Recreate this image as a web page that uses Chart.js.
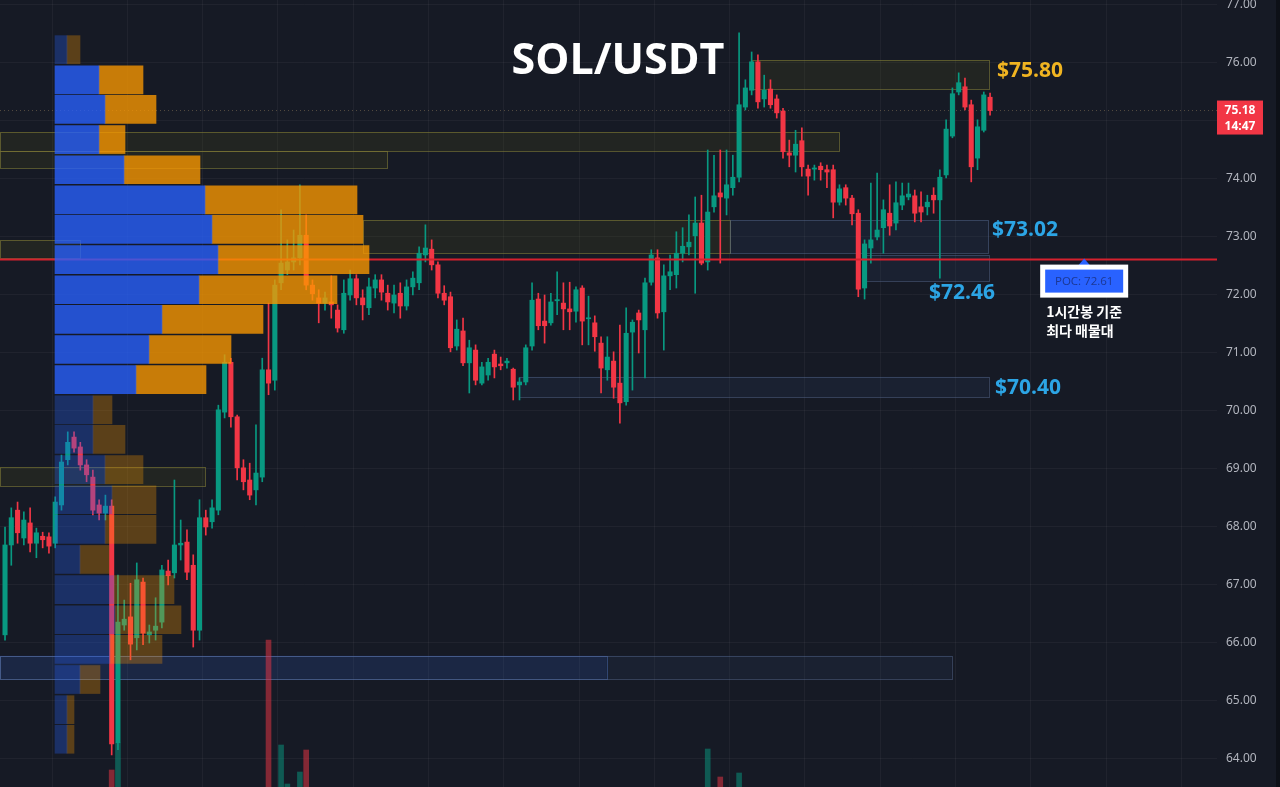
<!DOCTYPE html>
<html>
<head>
<meta charset="utf-8">
<script src="https://cdn.jsdelivr.net/npm/chart.js@4.4.1/dist/chart.umd.min.js"></script>
<style>
  html, body { margin: 0; padding: 0; background: #161a25; }
  #wrap { width: 1280px; height: 787px; position: relative; }
</style>
</head>
<body>
<div id="wrap"><canvas id="chartSol"></canvas></div>
<script>
// ── SOL/USDT 1h candles (oldest first) ──
const opens = [66.14,67.69,68.29,67.81,68.07,67.72,67.84,67.83,67.72,68.38,
  69.16,69.55,69.38,69.07,68.86,68.38,68.24,68.36,64.28,66.31,
  66.45,66.09,67.05,66.14,66.22,66.36,67.24,67.21,67.69,67.74,
  67.34,66.22,68.16,68.09,68.29,69.98,70.84,69.90,69.02,68.81,
  68.64,68.86,70.71,70.53,72.21,72.43,72.57,72.64,73.03,72.17,
  71.95,71.86,71.88,71.74,71.40,72.00,72.28,71.95,71.78,72.12,
  72.26,72.03,71.86,72.03,71.81,72.14,72.21,72.69,72.79,72.52,
  72.03,71.97,71.12,71.38,70.83,71.05,70.48,70.62,70.98,70.81,
  70.83,70.72,70.45,70.50,71.12,71.93,71.55,71.52,71.90,71.86,
  71.76,71.72,72.12,71.59,71.52,71.17,70.71,70.86,70.48,70.16,
  71.36,71.69,71.40,72.22,72.64,71.71,72.33,72.35,72.72,72.83,
  73.02,73.24,72.57,73.52,73.76,73.67,73.85,74.03,75.24,75.53,
  76.02,75.38,75.55,75.38,75.17,74.45,74.41,74.66,74.17,74.17,
  74.22,74.16,74.16,73.60,73.85,73.67,73.41,72.12,72.81,73.00,
  73.16,73.41,73.24,73.55,73.69,73.71,73.52,73.52,73.72,73.64,
  74.07,74.74,75.50,75.59,75.28,74.36,74.84,75.41];
const highs = [68.00,68.33,68.43,68.26,68.33,67.98,67.91,67.90,68.52,69.24,
  69.64,69.64,69.46,69.16,68.98,68.47,68.55,68.47,67.17,66.74,
  67.03,67.38,67.12,66.31,66.78,67.34,67.43,68.81,68.12,67.95,
  67.52,68.47,68.29,68.47,70.10,70.97,70.91,69.93,69.16,69.10,
  69.76,70.91,71.86,72.26,73.47,72.95,73.12,73.90,73.38,72.26,
  72.09,72.05,72.33,71.83,72.26,72.43,72.35,72.09,72.29,72.35,
  72.35,72.17,72.17,72.21,72.26,72.40,72.83,73.21,72.95,72.57,
  72.16,72.05,71.57,71.60,71.22,71.14,70.84,70.91,71.05,70.93,
  70.91,70.74,70.57,71.14,72.21,72.03,72.00,72.03,72.40,72.21,
  72.22,72.14,72.16,71.98,71.64,71.28,71.28,71.02,71.48,71.78,
  71.57,71.74,72.29,72.78,72.78,72.52,72.69,73.09,73.16,73.38,
  73.69,73.72,74.50,74.41,74.50,74.50,74.41,76.52,75.71,76.19,
  76.14,75.79,75.71,75.45,75.22,74.67,74.84,74.88,74.24,74.24,
  74.28,74.24,74.24,73.90,73.90,73.72,73.47,72.95,73.93,74.10,
  73.64,73.90,73.95,73.93,73.93,73.81,73.78,73.72,73.85,74.16,
  75.02,75.57,75.83,75.74,75.36,75.02,75.50,75.48];
const lows = [66.05,67.34,67.72,67.69,67.57,67.47,67.64,67.55,67.64,68.29,
  69.07,69.29,68.98,68.78,68.21,68.12,68.12,64.07,64.16,66.22,
  65.71,65.88,65.97,66.00,66.05,66.26,67.00,67.12,67.43,67.09,
  65.93,66.05,67.86,67.98,68.21,69.88,69.72,68.81,68.64,68.47,
  68.38,68.78,70.28,70.36,72.09,72.35,72.43,72.52,72.09,71.91,
  71.52,71.74,71.60,71.36,71.34,71.91,71.83,71.57,71.66,71.95,
  71.91,71.74,71.69,71.60,71.74,72.00,72.09,72.57,72.43,71.95,
  71.83,71.02,71.05,70.78,70.31,70.45,70.45,70.53,70.57,70.71,
  70.74,70.19,70.19,70.45,71.05,71.40,71.17,71.48,71.66,71.40,
  71.40,71.53,71.14,71.14,71.03,70.31,70.53,70.22,69.79,70.10,
  70.36,71.00,70.57,72.17,71.60,71.05,72.09,72.12,72.57,72.69,
  72.03,72.52,72.43,73.43,72.55,73.38,73.72,73.95,75.19,75.45,
  75.22,75.24,75.22,75.05,74.36,74.21,74.12,74.05,73.72,73.98,
  73.98,73.85,73.33,73.55,73.55,73.21,71.97,71.93,72.55,72.95,
  72.72,73.03,73.12,73.47,73.64,73.26,73.26,73.38,73.41,72.29,
  74.02,74.71,75.45,75.19,73.95,74.16,74.81,75.10];
const closes = [67.69,68.16,67.90,68.12,67.72,67.90,67.78,67.67,68.43,69.12,
  69.46,69.36,69.07,68.90,68.29,68.24,68.36,64.26,66.36,66.41,
  65.98,67.09,66.17,66.19,66.29,67.26,67.16,67.69,67.72,67.22,
  66.22,68.16,68.00,68.33,70.02,70.84,69.90,69.02,68.78,68.55,
  68.93,70.71,70.48,72.17,72.55,72.57,72.64,73.03,72.17,72.02,
  71.86,71.95,71.83,71.43,72.03,72.28,71.95,71.83,72.14,72.26,
  72.05,71.88,72.00,71.81,72.14,72.29,72.72,72.81,72.52,72.03,
  71.91,71.09,71.41,70.83,71.09,70.53,70.76,70.84,70.76,70.78,
  70.86,70.41,70.50,71.09,71.91,71.47,71.47,71.88,71.92,71.76,
  71.71,72.09,71.55,71.60,71.28,70.74,70.93,70.41,70.14,71.34,
  71.53,71.57,72.21,72.69,71.69,72.33,72.40,72.72,72.84,72.91,
  73.24,72.55,73.43,73.71,73.69,73.90,74.03,75.28,75.57,76.02,
  75.33,75.53,75.28,75.14,74.47,74.41,74.60,74.21,74.05,74.19,
  74.16,74.12,73.60,73.83,73.67,73.40,72.10,72.88,72.95,73.12,
  73.47,73.19,73.59,73.71,73.74,73.41,73.43,73.60,73.64,74.03,
  74.86,75.47,75.66,75.24,74.21,74.90,75.45,75.18];

// volume bars that rise into view at the bottom edge (candle index, volume K)
const volIdx = [17, 18, 42, 44, 45, 47, 48, 112, 114, 117];
const volVals = [68, 176, 588, 168, 12, 60, 148, 152, 40, 56];

// volume profile rows (price centre, buy / sell volume K), top to bottom
const vpPrices = [76.23,75.71,75.20,74.68,74.16,73.64,73.13,72.61,72.09,71.58,71.06,70.54,
  70.02,69.51,68.99,68.47,67.96,67.44,66.92,66.40,65.89,65.37,64.85,64.34];
const vpBuy = [1.2,4.4,5.0,4.4,6.9,15.0,15.7,16.3,14.4,10.7,9.4,8.1,
  3.8,3.8,5.0,5.7,5.0,2.5,5.9,6.0,5.5,2.5,1.2,1.2];
const vpSell = [1.3,4.4,5.1,2.6,7.6,15.2,15.1,15.1,13.8,10.1,8.2,7.0,
  1.9,3.2,3.8,4.4,5.1,2.9,6.0,6.6,5.2,2.0,0.7,0.7];
const vpValueArea = [0,1,1,1,1,1,1,1,1,1,1,1, 0,0,0,0,0,0,0,0,0,0,0,0];

// support / resistance boxes (price low, price high, candle from, candle to)
const zoneLo = [75.55, 74.48, 74.19, 72.72, 72.72, 72.64, 72.24, 70.24, 68.71, 65.38, 65.38];
const zoneHi = [76.05, 74.81, 74.48, 73.29, 73.29, 72.95, 72.69, 70.59, 69.03, 65.78, 65.78];
const zoneFrom = [119.1, null, null, 57.1, 115.6, null, 137.1, 81.9, null, null, null];
const zoneTo = [156.8, 132.9, 60.9, 115.6, 156.8, 12.0, 156.8, 156.8, 31.9, 95.9, 150.9];
const zoneKind = ["olive", "olive", "olive", "olive", "blue", "olive", "blue", "blue", "olive", "blueStrong", "blue"];

const levelText = ["$75.80", "$73.02", "$72.46", "$70.40"];
const levelPrice = [75.86, 73.12, 72.03, 70.40];
const levelIdx = [158.1, 157.3, 157.8, 157.8];
const levelAlign = ["left", "left", "right", "left"];

const pocPrice = 72.61;
const pocLabelIdx = 172;
const lastPrice = 75.18;
const barTimer = "14:47";

// ── styling ──
const UP = "#089981";
const DOWN = "#f23645";
const FONT = "'Open Sans', 'Noto Sans', sans-serif";
const X_MIN = -0.8, X_MAX = 193.17;

const zoneStyle = {
  olive: { fill: "rgba(100,100,20,0.16)", border: "rgba(130,125,55,0.6)" },
  blue: { fill: "rgba(70,100,160,0.10)", border: "rgba(90,110,150,0.45)" },
  blueStrong: { fill: "rgba(41,98,255,0.10)", border: "rgba(80,120,200,0.45)" },
};

const isUp = opens.map((o, i) => closes[i] >= o);
const candleColors = isUp.map((u) => (u ? UP : DOWN));

const zonesPlugin = {
  id: "zones",
  beforeDatasetsDraw(chart) {
    const { ctx, chartArea, scales } = chart;
    ctx.save();
    zoneLo.forEach((lo, i) => {
      const x0 = zoneFrom[i] === null ? chartArea.left : scales.x.getPixelForValue(zoneFrom[i]);
      const x1 = scales.x.getPixelForValue(zoneTo[i]);
      const y0 = scales.y.getPixelForValue(zoneHi[i]);
      const y1 = scales.y.getPixelForValue(lo);
      const st = zoneStyle[zoneKind[i]];
      ctx.fillStyle = st.fill;
      ctx.fillRect(x0, y0, x1 - x0, y1 - y0);
      ctx.strokeStyle = st.border;
      ctx.lineWidth = 1;
      ctx.strokeRect(Math.round(x0) + 0.5, Math.round(y0) + 0.5, Math.round(x1 - x0), Math.round(y1 - y0));
    });
    ctx.restore();
  },
};

const overlayPlugin = {
  id: "overlay",
  afterDraw(chart) {
    const { ctx, chartArea, scales } = chart;
    ctx.save();

    // title
    ctx.fillStyle = "#ffffff";
    ctx.font = `bold 43px ${FONT}`;
    ctx.textAlign = "center";
    ctx.textBaseline = "middle";
    ctx.fillText("SOL/USDT", 618, 62);

    // level labels
    ctx.font = `bold 21px ${FONT}`;
    levelText.forEach((t, i) => {
      ctx.fillStyle = i === 0 ? "#f0b421" : "#2ca5e5";
      ctx.textAlign = levelAlign[i];
      ctx.fillText(t, scales.x.getPixelForValue(levelIdx[i]), scales.y.getPixelForValue(levelPrice[i]));
    });

    // POC marker + box
    const cx = scales.x.getPixelForValue(pocLabelIdx);
    const cy = scales.y.getPixelForValue(pocPrice);
    ctx.fillStyle = "#2962ff";
    ctx.beginPath();
    ctx.moveTo(cx, cy - 1);
    ctx.lineTo(cx - 6, cy + 6);
    ctx.lineTo(cx + 6, cy + 6);
    ctx.closePath();
    ctx.fill();
    ctx.fillStyle = "#ffffff";
    ctx.fillRect(cx - 44, cy + 5, 88, 33);
    ctx.fillStyle = "#2962ff";
    ctx.fillRect(cx - 39, cy + 10, 78, 23);
    ctx.fillStyle = "rgba(25,45,120,0.8)";
    ctx.font = `11.5px ${FONT}`;
    ctx.textAlign = "center";
    ctx.fillText("POC: " + pocPrice.toFixed(2), cx, cy + 22);

    ctx.fillStyle = "#ffffff";
    ctx.font = "bold 14px 'Noto Sans CJK KR', sans-serif";
    ctx.textAlign = "left";
    ctx.fillText("1시간봉 기준", cx - 38, cy + 52);
    ctx.fillText("최다 매물대", cx - 38, cy + 71);

    // last price tag on the axis
    const py = scales.y.getPixelForValue(lastPrice);
    ctx.fillStyle = DOWN;
    ctx.fillRect(chartArea.right, py - 10, 46, 34);
    ctx.fillStyle = "#ffffff";
    ctx.font = `bold 12px ${FONT}`;
    ctx.textAlign = "center";
    ctx.fillText(lastPrice.toFixed(2), chartArea.right + 23, py);
    ctx.fillText(barTimer, chartArea.right + 23, py + 16);

    // dark edge at the far right
    ctx.fillStyle = "#0d1017";
    ctx.fillRect(chart.width - 4, 0, 4, chart.height);
    ctx.restore();
  },
};

new Chart(document.getElementById("chartSol"), {
  type: "bar",
  data: {
    datasets: [
      {
        label: "profile buy",
        indexAxis: "y",
        xAxisID: "xp",
        yAxisID: "y",
        grouped: false,
        barThickness: 28,
        order: 0,
        data: vpPrices.map((p, i) => ({ y: p, x: [0, vpBuy[i]] })),
        backgroundColor: vpValueArea.map((v) => (v ? "rgba(41,98,255,0.78)" : "rgba(41,98,255,0.30)")),
        borderWidth: 0,
      },
      {
        label: "profile sell",
        indexAxis: "y",
        xAxisID: "xp",
        yAxisID: "y",
        grouped: false,
        barThickness: 28,
        order: 0,
        data: vpPrices.map((p, i) => ({ y: p, x: [vpBuy[i], vpBuy[i] + vpSell[i]] })),
        backgroundColor: vpValueArea.map((v) => (v ? "rgba(251,152,0,0.78)" : "rgba(251,152,0,0.30)")),
        borderWidth: 0,
      },
      {
        type: "line",
        label: "POC",
        xAxisID: "x",
        yAxisID: "y",
        order: 1,
        data: [{ x: X_MIN, y: pocPrice }, { x: X_MAX, y: pocPrice }],
        borderColor: "#d5212e",
        borderWidth: 2,
        pointRadius: 0,
        pointHoverRadius: 0,
      },
      {
        label: "body",
        xAxisID: "x",
        yAxisID: "y",
        grouped: false,
        barThickness: 4.4,
        minBarLength: 1,
        order: 2,
        data: opens.map((o, i) => ({ x: i, y: [o, closes[i]] })),
        backgroundColor: candleColors,
        borderWidth: 0,
      },
      {
        label: "wick",
        xAxisID: "x",
        yAxisID: "y",
        grouped: false,
        barThickness: 1,
        order: 3,
        data: lows.map((l, i) => ({ x: i, y: [l, highs[i]] })),
        backgroundColor: candleColors,
        borderWidth: 0,
      },
      {
        type: "line",
        label: "last",
        xAxisID: "x",
        yAxisID: "y",
        order: 4,
        data: [{ x: X_MIN, y: lastPrice }, { x: X_MAX, y: lastPrice }],
        borderColor: "rgba(180,150,110,0.4)",
        borderWidth: 1,
        borderDash: [1, 3],
        pointRadius: 0,
        pointHoverRadius: 0,
      },
      {
        label: "volume",
        xAxisID: "x",
        yAxisID: "yv",
        grouped: false,
        barThickness: 5,
        order: 5,
        data: volIdx.map((k, i) => ({ x: k, y: volVals[i] })),
        backgroundColor: volIdx.map((k) => (isUp[k] ? "rgba(8,153,129,0.5)" : "rgba(242,54,69,0.5)")),
        borderWidth: 0,
      },
    ],
  },
  options: {
    responsive: true,
    maintainAspectRatio: false,
    animation: false,
    events: [],
    layout: { padding: 0, autoPadding: false },
    plugins: {
      legend: { display: false },
      tooltip: { enabled: false },
    },
    scales: {
      x: {
        type: "linear",
        offset: false,
        min: X_MIN,
        max: X_MAX,
        ticks: { display: false },
        grid: { color: "rgba(255,255,255,0.045)", drawTicks: false, offset: false },
        border: { display: false },
        afterBuildTicks: (s) => {
          const t = [];
          for (let v = 7.5; v < X_MAX; v += 12) t.push({ value: v });
          s.ticks = t;
        },
        afterFit: (s) => {
          s.height = 0;
        },
      },
      xp: {
        type: "linear",
        axis: "x",
        position: "bottom",
        display: false,
        offset: false,
        min: -5.5,
        max: 116.2,
      },
      yv: {
        type: "linear",
        axis: "y",
        position: "left",
        display: false,
        offset: false,
        min: 0,
        max: 3148,
      },
      y: {
        type: "linear",
        position: "right",
        offset: false,
        min: 63.517,
        max: 77.086,
        ticks: {
          stepSize: 1,
          includeBounds: false,
          padding: 9,
          color: "#b2b5be",
          font: { family: "'Noto Sans', sans-serif", size: 12 },
          callback: (v) => v.toFixed(2),
        },
        grid: { color: "rgba(255,255,255,0.045)", drawTicks: false, offset: false },
        border: { display: false },
        afterFit: (s) => {
          s.width = 63;
          s.paddingTop = 0;
          s.paddingBottom = 0;
        },
      },
    },
  },
  plugins: [zonesPlugin, overlayPlugin],
});
</script>
</body>
</html>
